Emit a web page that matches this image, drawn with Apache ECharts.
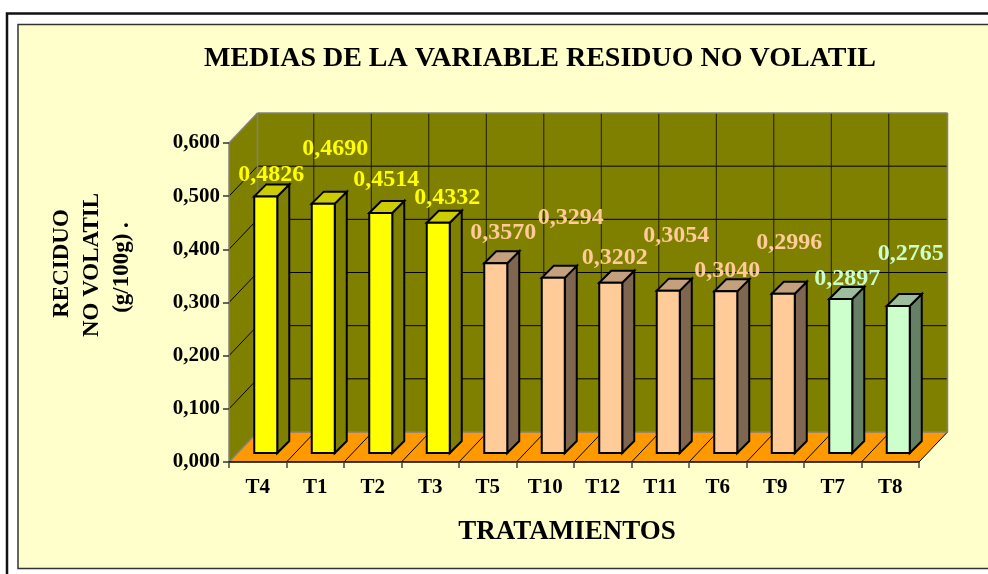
<!DOCTYPE html>
<html><head><meta charset="utf-8">
<style>html,body{margin:0;padding:0;background:#fff}#c{width:988px;height:574px}</style>
<script src="https://cdn.jsdelivr.net/npm/echarts@6/dist/echarts.min.js"></script>
</head><body><div id="c"></div>
<script>
var categories = ['T4','T1','T2','T3','T5','T10','T12','T11','T6','T9','T7','T8'];
var values = [0.4826,0.4690,0.4514,0.4332,0.3570,0.3294,0.3202,0.3054,0.3040,0.2996,0.2897,0.2765];
var groups = [0,0,0,0,1,1,1,1,1,1,2,2];
var yTicks = [0,0.1,0.2,0.3,0.4,0.5,0.6];
var titleText = 'MEDIAS DE LA VARIABLE RESIDUO NO VOLATIL';
var xTitle = 'TRATAMIENTOS';
var yTitle = ['RECIDUO','NO VOLATIL','(g/100g) .'];

// styling
var FONT = '"Liberation Serif","Times New Roman",serif';
var faces = [
  {front:'#FFFF00', top:'#CCCC00', side:'#808000', label:'#FFFF00'},
  {front:'#FFCC99', top:'#C4A07C', side:'#7F6650', label:'#FFCC99'},
  {front:'#CCFFCC', top:'#9DBD9D', side:'#668066', label:'#CCFFCC'}
];
var DEPTH_X = 28.5, DEPTH_Y = -30;
var BAR_SHIFT_X = 8, BAR_SHIFT_Y = -9;
var BAR_DX = 12, BAR_DY = -12, BAR_WIDTH_RATIO = 0.4;
var labelNudge = [[5.5,-22],[12,-54.5],[5.5,-33],[9,-24.5],[7.5,-30],[17.5,-60],[4,-24.7],[8,-54.5],[1.5,-21],[6,-50.6],[6.5,-20],[12.5,-52]];

function poly(pts, fill, stroke, w){
  return {type:'polygon', shape:{points:pts}, style:{fill:fill, stroke:stroke||null, lineWidth:w||0, lineJoin:'miter'}};
}
function seg(a,b,stroke,w){
  return {type:'line', shape:{x1:a[0],y1:a[1],x2:b[0],y2:b[1]}, style:{stroke:stroke, lineWidth:w||1}};
}
function shift(p,dx,dy){return [p[0]+dx,p[1]+dy];}

function renderWalls(params, api){
  var band = api.size([1,0])[0];
  var n = categories.length, top = yTicks[yTicks.length-1];
  var x0 = api.coord([0,0])[0]-band/2, x1 = api.coord([n-1,0])[0]+band/2;
  var y0 = api.coord([0,0])[1], yT = api.coord([0,top])[1];
  var dx = DEPTH_X, dy = DEPTH_Y, kids = [];
  var fl=[x0,y0], fr=[x1,y0], tl=[x0,yT];
  kids.push(poly([shift(fl,dx,dy),shift(fr,dx,dy),[x1+dx,yT+dy],[x0+dx,yT+dy]],'#808000'));
  kids.push(poly([fl,tl,shift(tl,dx,dy),shift(fl,dx,dy)],'#808000'));
  kids.push(poly([fl,fr,shift(fr,dx,dy),shift(fl,dx,dy)],'#FF9900'));
  yTicks.forEach(function(v){
    var y = api.coord([0,v])[1];
    if(v>0 && v<top){
      kids.push(seg([x0,y],[x0+dx,y+dy],'#000',1));
      kids.push(seg([x0+dx,y+dy],[x1+dx,y+dy],'#000',1));
    }
  });
  for(var i=1;i<n;i++){
    var x = x0+band*i;
    kids.push(seg([x-1.2+dx,yT+dy],[x-1.2+dx,y0+dy],'#1c1c00',1));
    kids.push(seg([x,y0],[x+dx,y0+dy],'#000',1));
  }
  kids.push(seg([x1,y0],[x1+dx,y0+dy],'#000',1));
  kids.push(seg(fl,[x0+dx,y0+dy],'#808080',1.5));
  kids.push(seg([x0+dx,y0+dy],[x1+dx,y0+dy],'#808080',1.5));
  kids.push(seg(tl,[x0+dx,yT+dy],'#808080',1.5));
  kids.push(seg([x0+dx,yT+dy],[x1+dx,yT+dy],'#808080',1.5));
  kids.push(seg([x0+dx,yT+dy],[x0+dx,y0+dy],'#808080',1.5));
  kids.push(seg([x1+dx,yT+dy],[x1+dx,y0+dy],'#808080',1.5));
  return {type:'group', children:kids};
}
function renderBar(params, api){
  var i = api.value(0), v = api.value(1);
  var band = api.size([1,0])[0], w = band*BAR_WIDTH_RATIO;
  var c = api.coord([i,v]), b = api.coord([i,0]);
  var cx = c[0]+BAR_SHIFT_X, l = cx-w/2, r = cx+w/2;
  var t = c[1]+BAR_SHIFT_Y, bt = b[1]+BAR_SHIFT_Y;
  var f = faces[groups[i]], S='#000', W=2;
  return {type:'group', children:[
    poly([[r,t],[r+BAR_DX,t+BAR_DY],[r+BAR_DX,bt+BAR_DY],[r,bt]],f.side,S,W),
    poly([[l,t],[l+BAR_DX,t+BAR_DY],[r+BAR_DX,t+BAR_DY],[r,t]],f.top,S,W),
    poly([[l,t],[r,t],[r,bt],[l,bt]],f.front,S,W)
  ]};
}
function renderLabel(params, api){
  var i = api.value(0), v = api.value(1);
  var c = api.coord([i,v]), n = labelNudge[i];
  return {type:'text', style:{
    text:v.toFixed(4).replace('.',','), x:c[0]+BAR_SHIFT_X+n[0], y:c[1]+BAR_SHIFT_Y+n[1],
    fill:faces[groups[i]].label, font:'bold 24px '+FONT, align:'center', verticalAlign:'middle'}};
}
function yTitleLine(text, x, y){
  return {type:'text', z:5, x:x, y:y, rotation:Math.PI/2,
    style:{text:text, x:0, y:0, font:'bold 23px '+FONT, fill:'#000', align:'center', verticalAlign:'middle'}};
}
var data = values.map(function(v,i){return [i,v];});
var chart = echarts.init(document.getElementById('c'),null,{renderer:'canvas'});
chart.setOption({
  animation:false,
  backgroundColor:'#fff',
  graphic:[
    {type:'rect', z:0, shape:{x:7,y:13.5,width:1100,height:700}, style:{fill:'#fff',stroke:'#111',lineWidth:2.5}},
    {type:'rect', z:0, shape:{x:18,y:24.5,width:1100,height:544}, style:{fill:'#FFFFCC',stroke:'#333',lineWidth:1.5}},
    yTitleLine(yTitle[0],62,263.5),
    yTitleLine(yTitle[1],92,265),
    yTitleLine(yTitle[2],122,267.5),
    {type:'text', z:5, style:{text:xTitle,x:567,y:532,font:'bold 27px '+FONT,fill:'#000',align:'center',verticalAlign:'middle'}}
  ],
  title:{text:titleText,left:535,top:40,textAlign:'center',textStyle:{fontFamily:FONT,fontWeight:'bold',fontSize:28,color:'#000'}},
  grid:{left:229,right:69,top:143,bottom:112,containLabel:false},
  xAxis:{type:'category',data:categories,z:3,
    axisLine:{lineStyle:{color:'#000',width:1.5}},
    axisTick:{show:true,alignWithLabel:false,length:6,lineStyle:{color:'#444',width:1.5}},
    axisLabel:{fontFamily:FONT,fontWeight:'bold',fontSize:21,color:'#000',margin:15},
    splitLine:{show:false}},
  yAxis:{type:'value',min:0,max:0.6,interval:0.1,z:3,
    axisLine:{show:true,lineStyle:{color:'#808080',width:1.5}},
    axisTick:{show:true,length:6,lineStyle:{color:'#333',width:1.5}},
    axisLabel:{fontFamily:FONT,fontWeight:'bold',fontSize:21,color:'#000',margin:9,
      formatter:function(v){return v.toFixed(3).replace('.',',');}},
    splitLine:{show:false}},
  series:[
    {type:'custom',z:1,silent:true,renderItem:renderWalls,data:[[0,0]],encode:{x:0,y:1},clip:false},
    {type:'custom',z:2,renderItem:renderBar,data:data,encode:{x:0,y:1},clip:false},
    {type:'custom',z:4,renderItem:renderLabel,data:data,encode:{x:0,y:1},clip:false}
  ]
});
</script></body></html>
